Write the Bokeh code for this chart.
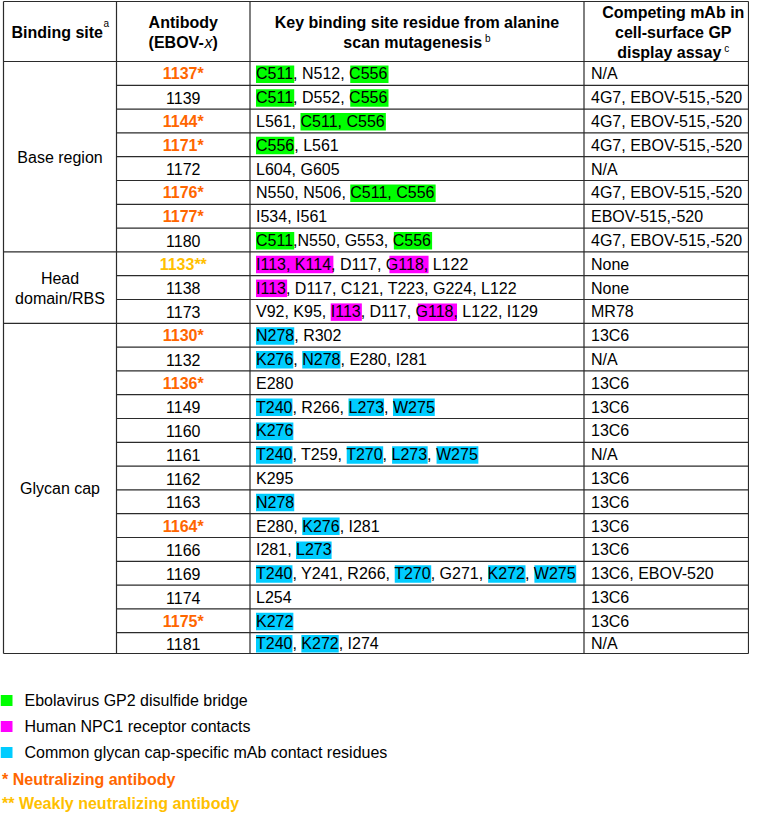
import re
from bokeh.plotting import figure
from bokeh.models import Range1d
from bokeh.core.properties import value
from bokeh.embed import file_html
from bokeh.resources import INLINE

# ---------------- data ----------------
column_headers = ["Binding site", "Antibody", "Key binding site residue from alanine scan mutagenesis",
                  "Competing mAb in cell-surface GP display assay"]
header_notes = ["a", "", "b", "c"]

row_sites = (["Base region"] * 8 + ["Head domain/RBS"] * 3 + ["Glycan cap"] * 14)

antibodies = ["1137", "1139", "1144", "1171", "1172", "1176", "1177", "1180",
              "1133", "1138", "1173",
              "1130", "1132", "1136", "1149", "1160", "1161", "1162", "1163",
              "1164", "1166", "1169", "1174", "1175", "1181"]

# N = neutralizing, W = weakly neutralizing, "" = none
neutralization = ["N", "", "N", "N", "", "N", "N", "",
                  "W", "", "",
                  "N", "", "N", "", "", "", "", "",
                  "N", "", "", "", "N", ""]

# {g:..} GP2 disulfide bridge, {m:..} NPC1 contacts, {c:..} glycan cap contacts
residues = [
    "{g:C511}, N512, {g:C556}",
    "{g:C511}, D552, {g:C556}",
    "L561, {g:C511, C556}",
    "{g:C556}, L561",
    "L604, G605",
    "N550, N506, {g:C511, C556}",
    "I534, I561",
    "{g:C511},N550, G553, {g:C556}",
    "{m:I113, K114}, D117, {m:G118}, L122",
    "{m:I113}, D117, C121, T223, G224, L122",
    "V92, K95, {m:I113}, D117, {m:G118}, L122, I129",
    "{c:N278}, R302",
    "{c:K276}, {c:N278}, E280, I281",
    "E280",
    "{c:T240}, R266, {c:L273}, {c:W275}",
    "{c:K276}",
    "{c:T240}, T259, {c:T270}, {c:L273}, {c:W275}",
    "K295",
    "{c:N278}",
    "E280, {c:K276}, I281",
    "I281, {c:L273}",
    "{c:T240}, Y241, R266, {c:T270}, G271, {c:K272}, {c:W275}",
    "L254",
    "{c:K272}",
    "{c:T240}, {c:K272}, I274",
]

competing = ["N/A", "4G7, EBOV-515,-520", "4G7, EBOV-515,-520", "4G7, EBOV-515,-520",
             "N/A", "4G7, EBOV-515,-520", "EBOV-515,-520", "4G7, EBOV-515,-520",
             "None", "None", "MR78",
             "13C6", "N/A", "13C6", "13C6", "13C6", "N/A", "13C6", "13C6",
             "13C6", "13C6", "13C6, EBOV-520", "13C6", "13C6", "N/A"]

legend_keys = ["g", "m", "c"]
legend_labels = ["Ebolavirus GP2 disulfide bridge", "Human NPC1 receptor contacts",
                 "Common glycan cap-specific mAb contact residues"]
footnotes = ["* Neutralizing antibody", "** Weakly neutralizing antibody"]

# ---------------- styles / layout ----------------
HL = {"g": "#00FF00", "m": "#FF00FF", "c": "#00CCFF"}
ORANGE = "#FF6600"
YELLOW = "#FFC000"
FONT = "Liberation Sans"
PW, PH = 749, 813
FS = 16

COLS = [3, 116, 249.5, 583.5, 748]
C4_RIGHT = 762          # nominal right edge used for centring the last header
T_TOP, H_BOT, ROW_H, T_BOT = 1, 61, 23.8, 653

REG = dict(zip(" ,-./*()", [278, 278, 333, 278, 278, 389, 333, 333]))
REG.update({d: 556 for d in "0123456789"})
REG.update(dict(zip("ABCDEFGHIKLMNOPRSTVWY",
                    [667, 667, 722, 722, 667, 611, 778, 722, 278, 667, 556, 833, 722, 778, 667, 722, 667, 611, 667, 944, 667])))
REG.update(dict(zip("abcdefghiklmnoprstuvxyz",
                    [556, 556, 500, 556, 556, 278, 556, 556, 222, 500, 222, 833, 556, 556, 556, 333, 500, 278, 556, 500, 500, 500, 500])))
BOLD = dict(zip(" ,-./*()", [278, 278, 333, 278, 278, 389, 333, 333]))
BOLD.update({d: 556 for d in "0123456789"})
BOLD.update(dict(zip("ABCDEGKNOPVW", [722, 722, 722, 722, 667, 778, 722, 722, 778, 667, 667, 944])))
BOLD.update(dict(zip("abcdefghiklmnoprstuvxyz",
                     [556, 611, 556, 611, 556, 333, 611, 611, 278, 556, 278, 889, 611, 611, 611, 389, 556, 333, 611, 556, 556, 556, 500])))


def tw(s, table, size=FS):
    return sum(table.get(ch, 556) for ch in s) * size / 1000.0


p = figure(width=PW, height=PH, x_range=Range1d(0, PW), y_range=Range1d(PH, 0),
           output_backend="svg", toolbar_location=None, x_axis_type=None, y_axis_type=None,
           min_border=0)
p.grid.visible = False
p.outline_line_color = None
p.background_fill_color = "white"
p.border_fill_color = "white"


def txt(xs, ys, texts, color="black", size=FS, style="normal", align="left"):
    p.text(x=xs, y=ys, text=texts, text_color=color, text_font=value(FONT),
           text_font_size=value(f"{size}px"), text_font_style=style,
           text_align=align, text_baseline="middle")


n = len(antibodies)
row_top = [H_BOT + i * ROW_H for i in range(n)]
row_bot = [min(t + ROW_H, T_BOT) for t in row_top]
row_mid = [(a + b) / 2 + 0.5 for a, b in zip(row_top, row_bot)]

# ---- highlight boxes ----
ql, qr, qt, qb, qc = [], [], [], [], []
for i, s in enumerate(residues):
    x = COLS[2] + 6
    for m in re.finditer(r"\{(\w):([^}]*)\}|([^{]+)", s):
        seg = m.group(3) if m.group(3) else m.group(2)
        w = tw(seg, REG)
        if not m.group(3):
            ql.append(x); qr.append(x + w); qt.append(row_mid[i] - 8.5); qb.append(row_mid[i] + 9)
            qc.append(HL[m.group(1)])
        x += w
p.quad(left=ql, right=qr, top=qt, bottom=qb, fill_color=qc, line_color=None)

# ---- grid lines ----
x0, y0, x1, y1 = [], [], [], []
for yy in (T_TOP, H_BOT, T_BOT):
    x0.append(COLS[0]); x1.append(COLS[-1]); y0.append(yy); y1.append(yy)
for xx in COLS:
    x0.append(xx); x1.append(xx); y0.append(T_TOP); y1.append(T_BOT)
for i in range(1, n):
    start = COLS[0] if row_sites[i] != row_sites[i - 1] else COLS[1]
    x0.append(start); x1.append(COLS[-1]); y0.append(row_top[i]); y1.append(row_top[i])
p.segment(x0=x0, y0=y0, x1=x1, y1=y1, line_color="#2b2b2b", line_width=1.2)

# ---- header ----
c1 = (COLS[0] + COLS[1]) / 2
c2 = (COLS[1] + COLS[2]) / 2
c3 = (COLS[2] + COLS[3]) / 2
c4 = (COLS[3] + C4_RIGHT) / 2
SUP = 10
# col 1
w_main = tw(column_headers[0], BOLD)
sx = c1 - (w_main + tw(header_notes[0], REG, SUP)) / 2
txt([sx], [31.7], [column_headers[0]], style="bold")
txt([sx + w_main + 0.5], [23], [header_notes[0]], size=SUP)
# col 2
txt([c2], [21.7], [column_headers[1]], style="bold", align="center")
parts = [("(EBOV-", "bold", BOLD), ("x", "italic", REG), (")", "bold", BOLD)]
tot = sum(tw(t, tb) for t, _, tb in parts)
xx = c2 - tot / 2
for t, st, tb in parts:
    txt([xx], [42.3], [t], style=st)
    xx += tw(t, tb)
# col 3
l1, l2 = "Key binding site residue from alanine", "scan mutagenesis"
txt([c3], [21.7], [l1], style="bold", align="center")
w2 = tw(l2, BOLD)
sx = c3 - (w2 + 3 + tw(header_notes[2], REG, SUP)) / 2
txt([sx], [41.7], [l2], style="bold")
txt([sx + w2 + 3], [37.5], [header_notes[2]], size=SUP)
# col 4
txt([c4, c4], [11.7, 31.7], ["Competing mAb in", "cell-surface GP"], style="bold", align="center")
l3 = "display assay"
w3 = tw(l3, BOLD)
sx = c4 - (w3 + 3 + tw(header_notes[3], REG, SUP)) / 2
txt([sx], [51.5], [l3], style="bold")
txt([sx + w3 + 3], [47.5], [header_notes[3]], size=SUP)

# ---- column 1 groups ----
groups = []
for i, s in enumerate(row_sites):
    if i == 0 or s != row_sites[i - 1]:
        groups.append([s, row_top[i], row_bot[i]])
    else:
        groups[-1][2] = row_bot[i]
for s, top, bot in groups:
    yc = (top + bot) / 2 + 0.5
    if s == "Head domain/RBS":
        txt([c1, c1], [yc - 10, yc + 10], ["Head", "domain/RBS"], align="center")
    else:
        txt([c1], [yc], [s], align="center")

# ---- column 2 ----
for flag, color, style, mark in (("", "black", "normal", ""), ("N", ORANGE, "bold", "*"),
                                 ("W", YELLOW, "bold", "**")):
    idx = [i for i in range(n) if neutralization[i] == flag]
    txt([c2] * len(idx), [row_mid[i] for i in idx], [antibodies[i] + mark for i in idx],
        color=color, style=style, align="center")

# ---- column 3 & 4 ----
plain = [re.sub(r"\{\w:([^}]*)\}", r"\1", s) for s in residues]
txt([COLS[2] + 6] * n, row_mid, plain)
txt([COLS[3] + 7] * n, row_mid, competing)

# ---- legend ----
ly = [700, 726, 752]
p.quad(left=[0] * 3, right=[12] * 3, top=[y - 5.5 for y in ly], bottom=[y + 5.5 for y in ly],
       fill_color=[HL[k] for k in legend_keys], line_color=None)
txt([24] * 3, ly, legend_labels)
txt([1.5], [778.5], [footnotes[0]], color=ORANGE, style="bold")
txt([1.5], [802.5], [footnotes[1]], color=YELLOW, style="bold")

open("out.html", "w").write(file_html(p, INLINE))
